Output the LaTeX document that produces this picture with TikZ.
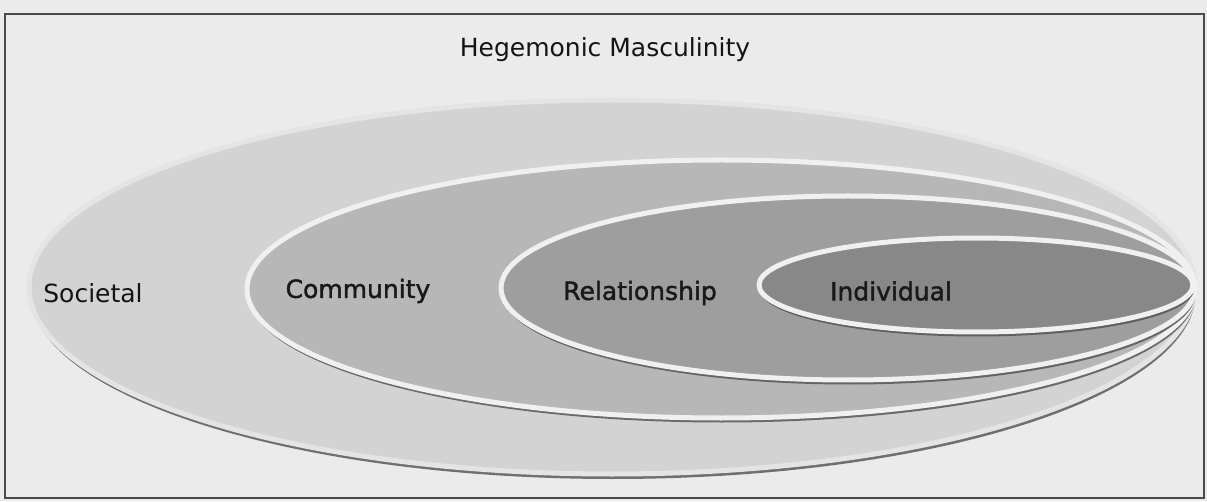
\documentclass[tikz,border=0pt]{standalone}
\usepackage{fontspec}
\setmainfont{DejaVu Sans}
\newfontfamily\boldishfont[FakeBold=1.6]{DejaVu Sans}
\definecolor{bgc}{HTML}{EBEBEB}
\definecolor{socc}{HTML}{D3D3D3}
\definecolor{comc}{HTML}{B7B7B7}
\definecolor{relc}{HTML}{9E9E9E}
\definecolor{indc}{HTML}{888888}
\definecolor{rimc}{HTML}{F0F0F0}
\definecolor{shadc}{HTML}{505050}
\definecolor{framec}{HTML}{4A4A4A}
\tikzset{
  ringshadow/.style={fill=shadc, fill opacity=0.8, draw=none},
  ringfill/.style={draw=rimc, line width=5pt},
  lbl/.style={font=\fontsize{25}{30}\selectfont, text=black!92, inner sep=0pt},
  blbl/.style={font=\boldishfont\fontsize{25}{30}\selectfont, text=black!90, inner sep=0pt}
}
\begin{document}
\begin{tikzpicture}[x=1pt,y=1pt]
\useasboundingbox (0,0) rectangle (1207,501);
\fill[bgc] (0,0) rectangle (1207,501);
\draw[framec, line width=1.6pt] (5,3) rectangle (1204,487);
% Societal
\fill[ringshadow] (613,209) ellipse [x radius=583, y radius=187];
\path[ringfill, draw=rimc!60!socc, fill=socc] (612,214) ellipse [x radius=583, y radius=187];
% Community
\fill[ringshadow] (722,207.5) ellipse [x radius=474, y radius=129];
\path[ringfill, fill=comc] (721,212) ellipse [x radius=474, y radius=129];
% Relationship
\fill[ringshadow] (849,208.5) ellipse [x radius=347, y radius=92];
\path[ringfill, fill=relc] (848,213) ellipse [x radius=347, y radius=92];
% Individual
\fill[ringshadow] (977,211.5) ellipse [x radius=217, y radius=47];
\path[ringfill, fill=indc] (976,216) ellipse [x radius=217, y radius=47];
% labels
\node[lbl] (title) at (605,451) {Hegemonic Masculinity};
\node[lbl] (soc) at (93,208) {Societal};
\node[blbl] (com) at (358,210) {Community};
\node[blbl] (rel) at (640,208) {Relationship};
\node[blbl] (ind) at (891,210) {Individual};
\end{tikzpicture}
\end{document}
